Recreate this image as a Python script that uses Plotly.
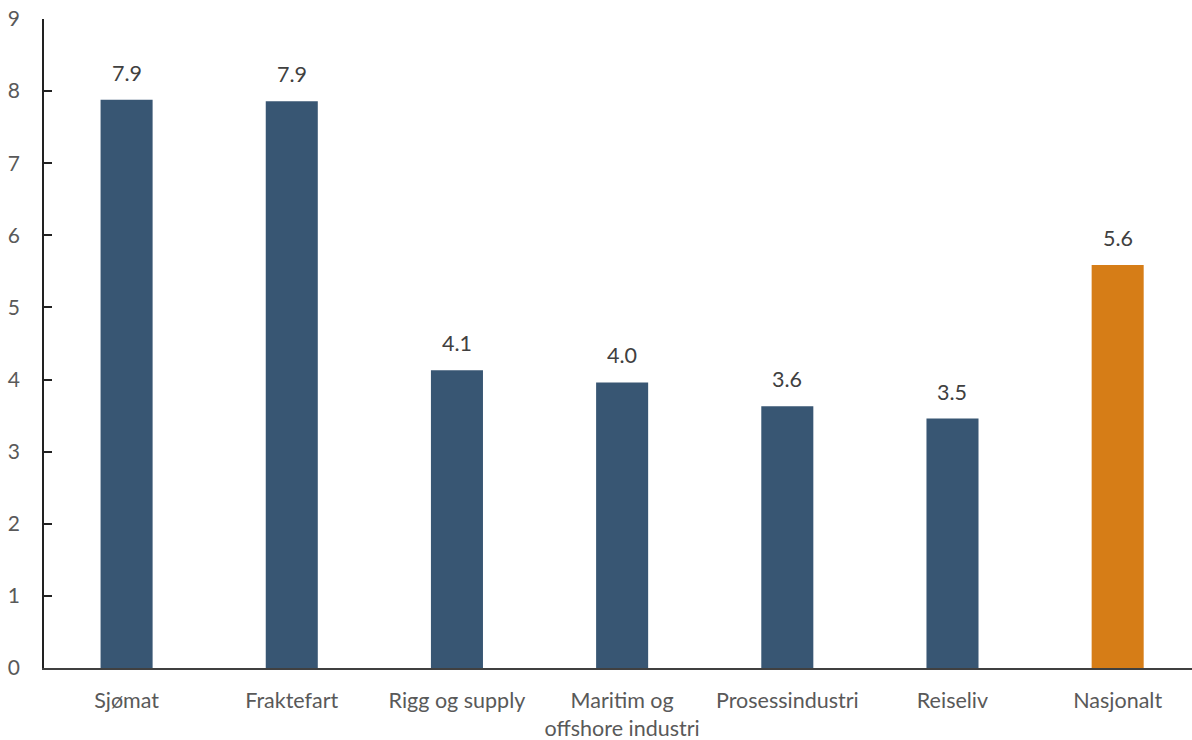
import plotly.graph_objects as go

categories = ["Sjømat", "Fraktefart", "Rigg og supply", "Maritim og<br>offshore industri",
              "Prosessindustri", "Reiseliv", "Nasjonalt"]
values = [7.88, 7.86, 4.13, 3.96, 3.63, 3.46, 5.59]
bar_colors = ["#385673", "#385673", "#385673", "#385673", "#385673", "#385673", "#D67D17"]
y_ticks = list(range(0, 10))

fig = go.Figure(go.Bar(
    x=categories,
    y=values,
    marker=dict(color=bar_colors, line=dict(width=0)),
    width=0.315,
))

# value labels sit a fixed distance above each bar
for cat, val in zip(categories, values):
    fig.add_annotation(
        x=cat, y=val, text=f"{val:.1f}",
        showarrow=False, yanchor="bottom", yshift=12,
        font=dict(family="Lato", size=21.5, color="#404040"),
    )

fig.update_layout(
    width=1192, height=740,
    margin=dict(l=44, r=0, t=19, b=72),
    plot_bgcolor="white", paper_bgcolor="white",
    font=dict(family="Lato", size=21, color="#595959"),
    showlegend=False,
)
fig.update_xaxes(
    range=[-0.5, 6.45],
    showline=True, linecolor="#404040", linewidth=1.5,
    ticks="", ticklabelstandoff=12,
    tickfont=dict(family="Lato", size=21.5, color="#595959"),
)
fig.update_yaxes(
    range=[0, 9], tickvals=y_ticks,
    showgrid=False, zeroline=False,
    showline=True, linecolor="#222222", linewidth=1.5,
    ticks="inside", ticklen=8, tickcolor="#222222", tickwidth=1.5,
    ticklabelstandoff=18,
    tickfont=dict(family="Lato", size=21, color="#595959"),
)

fig.write_html("out.html")
